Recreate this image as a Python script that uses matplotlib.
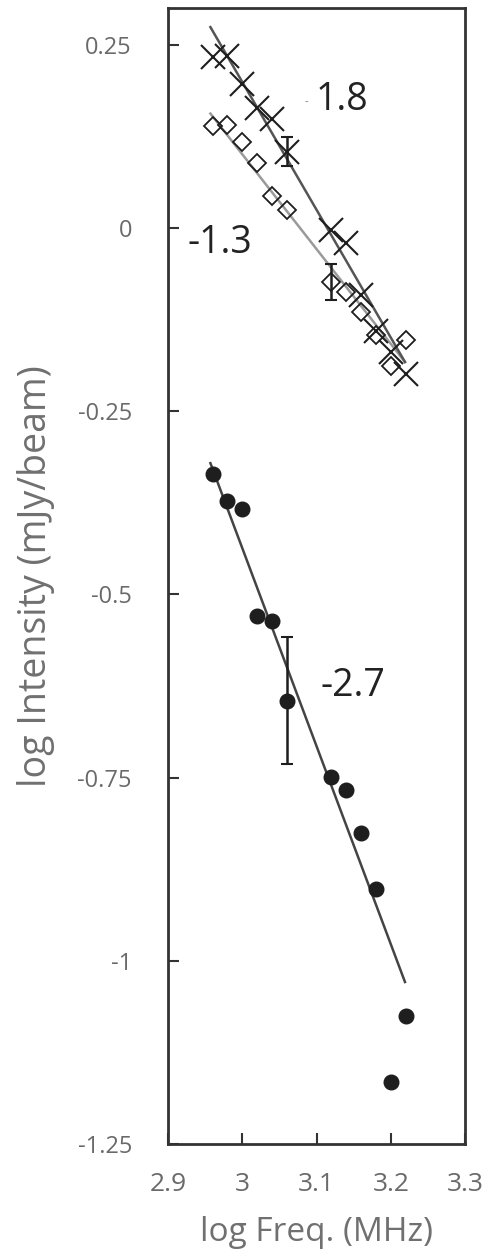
import matplotlib
matplotlib.use("Agg")
import matplotlib.pyplot as plt
import numpy as np

plt.rcParams['font.family'] = ['Open Sans', 'DejaVu Sans']

# log frequency (MHz) of the measurements
freq = [2.96, 2.98, 3.00, 3.02, 3.04, 3.06, 3.12, 3.14, 3.16, 3.18, 3.20, 3.22]

# three series
cross_y = [0.233, 0.235, 0.197, 0.163, 0.148, 0.104, -0.003, -0.020, -0.091, -0.141, -0.170, -0.200]
diam_y = [0.139, 0.140, 0.117, 0.089, 0.043, 0.024, -0.074, -0.088, -0.115, -0.146, -0.188, -0.153]
dot_y = [-0.336, -0.373, -0.384, -0.530, -0.536, -0.645, -0.749, -0.767, -0.825, -0.902, -1.166, -1.075]

# single representative error bars
cross_err = (3.06, 0.104, 0.020)
diam_err = (3.12, -0.074, 0.025)
dot_err = (3.06, -0.645, 0.087)

# fitted power-law lines (end points)
fit_x = [2.957, 3.219]
fit_cross = [0.274, -0.183]
fit_diam = [0.156, -0.183]
fit_dot = [-0.321, -1.029]

slopes = ['-1.3', '1.8', '-2.7']

fig = plt.figure(figsize=(4.83, 12.56), dpi=100)
ax = fig.add_axes([0.348, 0.0892, 0.615, 0.9044])

ink = '#1e1e1e'
ax.plot(fit_x, fit_diam, color='#9a9a9a', lw=1.8, zorder=1)
ax.plot(fit_x, fit_cross, color='#555555', lw=1.8, zorder=1)
ax.plot(fit_x, fit_dot, color='#444444', lw=1.8, zorder=1)

ax.plot(freq, cross_y, ls='none', marker='x', ms=17, mew=1.5, color=ink, zorder=3)
ax.plot(freq, diam_y, ls='none', marker='D', ms=9.5, mew=1.3, mfc='none', mec=ink, zorder=3)
ax.plot(freq, dot_y, ls='none', marker='o', ms=10.5, color=ink, zorder=3)

for x, y, e in [cross_err, diam_err, dot_err]:
    ax.errorbar([x], [y], yerr=[e], fmt='none', ecolor=ink, elinewidth=1.8,
                capsize=4, capthick=1.5, zorder=2)

ax.text(2.97, -0.02, slopes[0], fontsize=27, color='#222222', ha='center', va='center')
ax.text(3.086, 0.172, '-', fontsize=8, color='#777777', ha='center', va='center')
ax.text(3.134, 0.174, slopes[1], fontsize=27, color='#222222', ha='center', va='center')
ax.text(3.149, -0.625, slopes[2], fontsize=27, color='#222222', ha='center', va='center')

ax.set_xlim(2.9, 3.3)
ax.set_ylim(-1.25, 0.3)
ax.set_xticks([2.9, 3.0, 3.1, 3.2, 3.3])
ax.set_xticklabels(['2.9', '3', '3.1', '3.2', '3.3'])
ax.set_yticks([0.25, 0, -0.25, -0.5, -0.75, -1, -1.25])
ax.set_yticklabels(['0.25', '0', '-0.25', '-0.5', '-0.75', '-1', '-1.25'])
ax.tick_params(direction='in', length=8, width=1.5, color='#333333',
               labelcolor='#6a6a6a')
ax.tick_params(axis='x', labelsize=19, pad=20)
ax.tick_params(axis='y', labelsize=17, pad=26)
for s in ax.spines.values():
    s.set_color('#333333')
    s.set_linewidth(2)

ax.set_xlabel('log Freq. (MHz)', fontsize=24, color='#707070', labelpad=14)
ax.set_ylabel('log Intensity (mJy/beam)', fontsize=27, color='#707070', labelpad=16)

fig.savefig('out.png', dpi=100)
